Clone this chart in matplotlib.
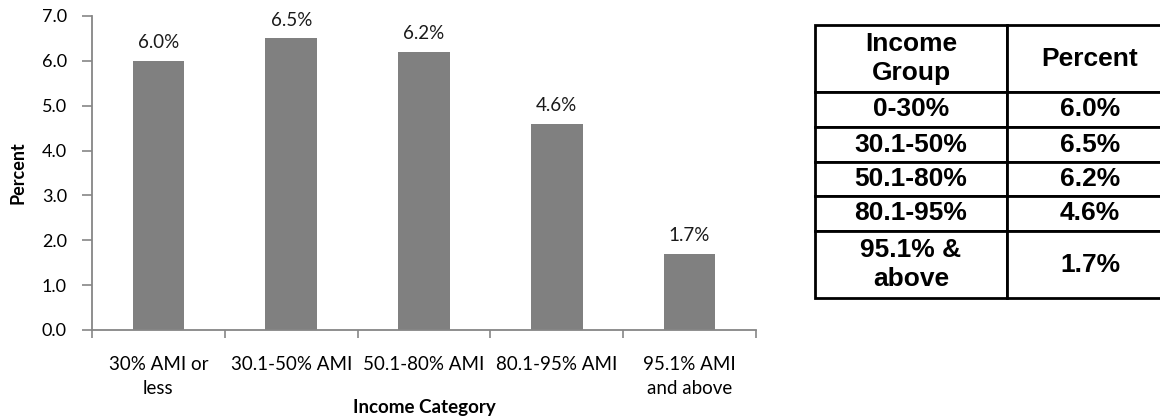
import matplotlib
matplotlib.use('Agg')
import matplotlib.pyplot as plt
import numpy as np

# chart data
categories = ['30% AMI or\nless', '30.1-50% AMI', '50.1-80% AMI', '80.1-95% AMI', '95.1% AMI\nand above']
percents = [6.0, 6.5, 6.2, 4.6, 1.7]
y_ticks = [0.0, 1.0, 2.0, 3.0, 4.0, 5.0, 6.0, 7.0]

# table data
table_header = ['Income\nGroup', 'Percent']
table_groups = ['0-30%', '30.1-50%', '50.1-80%', '80.1-95%', '95.1% &\nabove']
table_values = ['6.0%', '6.5%', '6.2%', '4.6%', '1.7%']

plt.rcParams['font.family'] = ['Lato', 'DejaVu Sans']

W, H = 1160, 417
fig = plt.figure(figsize=(W / 100, H / 100), dpi=100)

# ---- bar chart ----
ax = fig.add_axes([92 / W, 1 - 330 / H, (756 - 92) / W, (330 - 16) / H])
x = np.arange(len(categories))
bars = ax.bar(x, percents, width=0.39, color='#808080', zorder=2)

for xi, v in zip(x, percents):
    ax.annotate(f'{v:.1f}%', (xi, v), xytext=(0, 7), textcoords='offset points',
                ha='center', va='bottom', fontsize=13.5, color='#1a1a1a')

ax.set_xlim(-0.5, len(categories) - 0.5)
ax.set_ylim(0, 7)
ax.set_yticks(y_ticks)
ax.set_yticklabels([f'{t:.1f}' for t in y_ticks], fontsize=13)

# ticks sit on the category boundaries, labels in the middle
ax.set_xticks(np.arange(-0.5, len(categories)))
ax.set_xticklabels([])
ax.set_xticks(x, minor=True)
ax.set_xticklabels(categories, minor=True, fontsize=13.5, linespacing=1.5)
ax.tick_params(axis='x', which='minor', length=0, pad=19)
ax.tick_params(axis='x', which='major', length=6, color='#868686', width=1.2)
ax.tick_params(axis='y', length=7, color='#868686', width=1.2, pad=11)

for s in ['top', 'right']:
    ax.spines[s].set_visible(False)
for s in ['left', 'bottom']:
    ax.spines[s].set_color('#868686')
    ax.spines[s].set_linewidth(1.3)

ax.set_ylabel('Percent', fontsize=13, fontweight='bold')
ax.yaxis.set_label_coords(-0.111, 0.5)
ax.yaxis.label.set_va('center')
ax.set_xlabel('Income Category', fontsize=13.5, fontweight='bold')
ax.xaxis.set_label_coords(0.5, -0.246)
ax.xaxis.label.set_va('center')

# ---- side table ----
tax = fig.add_axes([815 / W, 1 - 298 / H, (1173 - 815) / W, (298 - 25) / H])
tax.axis('off')
cell_text = [table_header] + [[g, v] for g, v in zip(table_groups, table_values)]
tbl = tax.table(cellText=cell_text, cellLoc='center', bbox=[0, 0, 1, 1])
tbl.auto_set_font_size(False)
row_h = [67, 35, 35, 34, 35, 67]
col_w = [192, 166]
for (r, c), cell in tbl.get_celld().items():
    cell.set_height(row_h[r])
    cell.set_width(col_w[c])
    cell.set_linewidth(2.0)
    cell.set_edgecolor('black')
    cell.get_text().set_fontsize(19)
    cell.get_text().set_fontfamily(['Liberation Sans', 'DejaVu Sans'])
    cell.get_text().set_fontweight('bold')
    cell.get_text().set_linespacing(1.25)

fig.savefig('out.png', dpi=100)
